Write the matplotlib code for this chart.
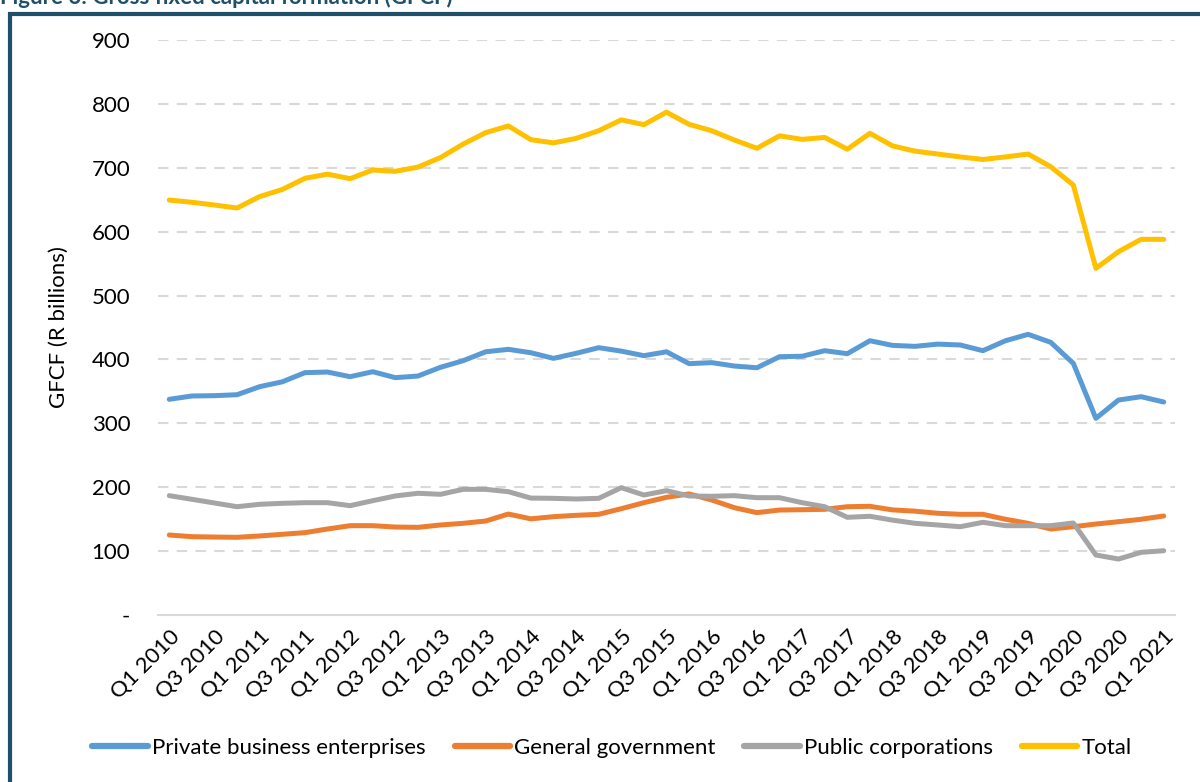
import matplotlib
matplotlib.use("Agg")
import matplotlib.pyplot as plt
from matplotlib.patches import Rectangle

quarters = [f"Q{q} {y}" for y in range(2010, 2022) for q in range(1, 5)][:45]

private = [337.6, 342.8, 343.3, 344.8, 357.4, 365.0, 379.3, 380.3, 373.0, 380.8,
           371.5, 374.0, 387.7, 398.0, 412.0, 415.8, 410.5, 401.7, 409.6, 418.4,
           413.0, 405.9, 412.0, 393.4, 395.0, 389.7, 387.0, 404.3, 405.0, 413.7,
           409.0, 429.3, 422.0, 420.5, 424.0, 422.6, 413.7, 429.3, 439.3, 426.8,
           393.9, 307.8, 336.5, 341.7, 333.4]
government = [125.2, 122.6, 122.0, 121.6, 123.7, 126.3, 128.9, 134.6, 139.8, 139.8,
              137.7, 137.2, 140.9, 143.5, 147.1, 158.0, 150.5, 153.9, 156.0, 157.6,
              166.4, 175.8, 184.2, 189.5, 180.0, 168.0, 160.2, 164.3, 164.8, 165.4,
              169.5, 170.1, 164.5, 162.5, 159.2, 157.6, 157.6, 149.8, 143.5, 134.6,
              138.2, 142.4, 146.0, 149.8, 155.0]
public = [186.8, 181.1, 175.3, 169.5, 173.3, 174.8, 175.8, 175.8, 171.1, 178.9,
          186.3, 190.5, 188.9, 196.7, 196.7, 193.0, 183.0, 182.6, 181.6, 182.6,
          199.3, 187.8, 194.6, 186.3, 185.8, 186.8, 183.6, 183.6, 175.8, 169.5,
          152.9, 154.5, 148.5, 143.5, 140.9, 138.2, 145.1, 139.8, 139.8, 139.8,
          144.0, 93.9, 87.6, 98.1, 100.6]
total = [649.5, 646.0, 641.7, 637.0, 655.0, 666.0, 683.5, 690.0, 683.0, 696.5,
         694.5, 701.0, 716.0, 737.0, 755.0, 765.5, 744.0, 739.0, 746.0, 758.0,
         775.0, 767.5, 787.0, 768.0, 758.0, 743.5, 730.5, 750.0, 744.5, 747.5,
         729.0, 754.0, 734.3, 726.0, 721.5, 717.0, 713.0, 717.0, 721.5, 701.7,
         673.0, 542.6, 568.7, 588.0, 588.0]

series_names = ["Private business enterprises", "General government",
                "Public corporations", "Total"]
colors = ["#5B9BD5", "#ED7D31", "#A5A5A5", "#FFC000"]
yticks = [0, 100, 200, 300, 400, 500, 600, 700, 800, 900]
ytick_labels = ["-", "100", "200", "300", "400", "500", "600", "700", "800", "900"]

plt.rcParams['font.family'] = ['Lato', 'DejaVu Sans']
FS = 16

fig = plt.figure(figsize=(12, 7.82), dpi=100)
ax = fig.add_axes([158/1200, (782-615)/782, (1175-158)/1200, (615-40)/782])

x = list(range(len(quarters)))
for vals, name, c in zip([private, government, public, total], series_names, colors):
    ax.plot(x, vals, color=c, lw=3.6, label=name, solid_capstyle='round', solid_joinstyle='round')

ax.set_xlim(-0.5, len(quarters) - 0.5)
ax.set_ylim(0, 900)
ax.set_yticks(yticks)
ax.set_yticklabels(ytick_labels, fontsize=FS)
for v in yticks[1:]:
    ax.axhline(v, color="#D9D9D9", lw=1.5, ls=(0, (5, 4)), zorder=0)
ax.set_xticks(x[::2])
ax.set_xticklabels(quarters[::2], rotation=45, ha='right', rotation_mode='anchor', fontsize=FS)
ax.tick_params(axis='both', length=0)
ax.tick_params(axis='y', pad=20)
ax.tick_params(axis='x', pad=8)
for s in ['top', 'right', 'left']:
    ax.spines[s].set_visible(False)
ax.spines['bottom'].set_color("#D9D9D9")
ax.spines['bottom'].set_linewidth(1.5)
ax.set_ylabel("GFCF (R billions)", fontsize=FS, labelpad=16)

leg = fig.legend(loc='center', bbox_to_anchor=(0.51, (782-748)/782), ncol=4, frameon=False,
                 fontsize=FS, handlelength=2.5, handletextpad=0.18, columnspacing=1.3)
for line in leg.get_lines():
    line.set_linewidth(4.5)

fig.add_artist(Rectangle((10/1200, -0.2), 1.2, 0.2 + (782-14)/782, transform=fig.transFigure,
                         fill=False, edgecolor="#1F5069", lw=3))
fig.text(0.0, 1.0 + 3/782, "Figure 6: Gross fixed capital formation (GFCF)", fontsize=16,
         fontweight='bold', color="#1F5069", ha='left', va='center')

fig.savefig("out.png", dpi=100)
